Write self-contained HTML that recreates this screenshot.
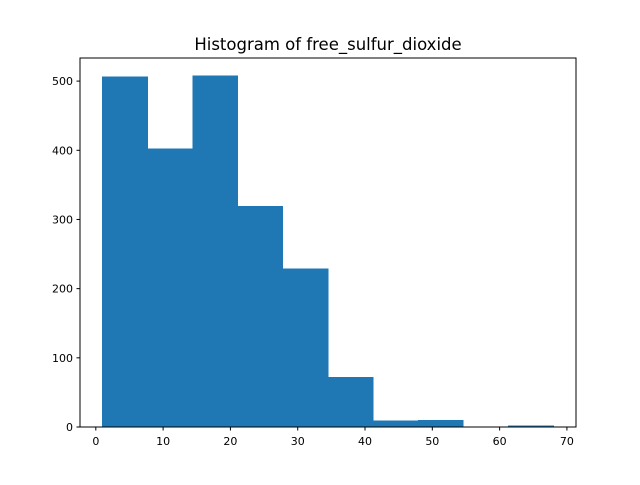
<!DOCTYPE html>
<html><head><meta charset="utf-8"><style>
body{margin:0;background:#fff;font-family:"Liberation Sans","DejaVu Sans",sans-serif;}
</style></head><body>
<svg id="chart" width="640" height="480" xmlns="http://www.w3.org/2000/svg">
<rect width="640" height="480" fill="#fff"/>
<text x="328" y="50" font-size="16.5" text-anchor="middle" font-family="DejaVu Sans, sans-serif">Histogram of free_sulfur_dioxide</text>
<g id="bars"></g>
<g id="xticks"></g>
<g id="yticks"></g>
<rect x="80" y="58" width="496" height="369" fill="none" stroke="#000" stroke-width="1"/>
</svg>
<script>
const binStart = 1;
const binEnd = 68;
const counts = [506, 402, 508, 319, 229, 72, 9, 10, 0, 2];
const xTickLabels = [0, 10, 20, 30, 40, 50, 60, 70];
const yTickLabels = [0, 100, 200, 300, 400, 500];

const ns = "http://www.w3.org/2000/svg";
const L = 80, R = 576, T = 58, B = 427;
const nb = counts.length;
const bw = (binEnd - binStart) / nb;
const pad = (binEnd - binStart) * 0.05;
const xmin = binStart - pad, xmax = binEnd + pad;
const ymax = Math.max(...counts) * 1.05;
const xs = v => L + (v - xmin) / (xmax - xmin) * (R - L);
const ys = v => B - v / ymax * (B - T);

const bars = document.getElementById('bars');
counts.forEach((c, i) => {
  const r = document.createElementNS(ns, 'rect');
  const x0 = xs(binStart + i * bw), x1 = xs(binStart + (i + 1) * bw);
  r.setAttribute('x', x0);
  r.setAttribute('width', x1 - x0);
  r.setAttribute('y', ys(c));
  r.setAttribute('height', B - ys(c));
  r.setAttribute('fill', '#1f77b4');
  r.setAttribute('stroke', '#1f77b4');
  r.setAttribute('stroke-width', '0.6');
  r.setAttribute('shape-rendering', 'crispEdges');
  
  
  bars.appendChild(r);
});

const xg = document.getElementById('xticks');
xTickLabels.forEach(v => {
  const x = xs(v);
  const l = document.createElementNS(ns, 'line');
  l.setAttribute('x1', x); l.setAttribute('x2', x);
  l.setAttribute('y1', B); l.setAttribute('y2', B + 3.5);
  l.setAttribute('stroke', '#000');
  
  
  xg.appendChild(l);
  const t = document.createElementNS(ns, 'text');
  t.setAttribute('x', x); t.setAttribute('y', B + 18);
  t.setAttribute('font-size', '11'); t.setAttribute('text-anchor', 'middle');
  t.setAttribute('font-family', 'DejaVu Sans, sans-serif');
  
  
  t.textContent = v;
  xg.appendChild(t);
});

const yg = document.getElementById('yticks');
yTickLabels.forEach(v => {
  const y = ys(v);
  const l = document.createElementNS(ns, 'line');
  l.setAttribute('x1', L - 3.5); l.setAttribute('x2', L);
  l.setAttribute('y1', y); l.setAttribute('y2', y);
  l.setAttribute('stroke', '#000');
  
  
  yg.appendChild(l);
  const t = document.createElementNS(ns, 'text');
  t.setAttribute('x', L - 7); t.setAttribute('y', y + 4);
  t.setAttribute('font-size', '11'); t.setAttribute('text-anchor', 'end');
  t.setAttribute('font-family', 'DejaVu Sans, sans-serif');
  
  
  t.textContent = v;
  yg.appendChild(t);
});
</script>
</body></html>
